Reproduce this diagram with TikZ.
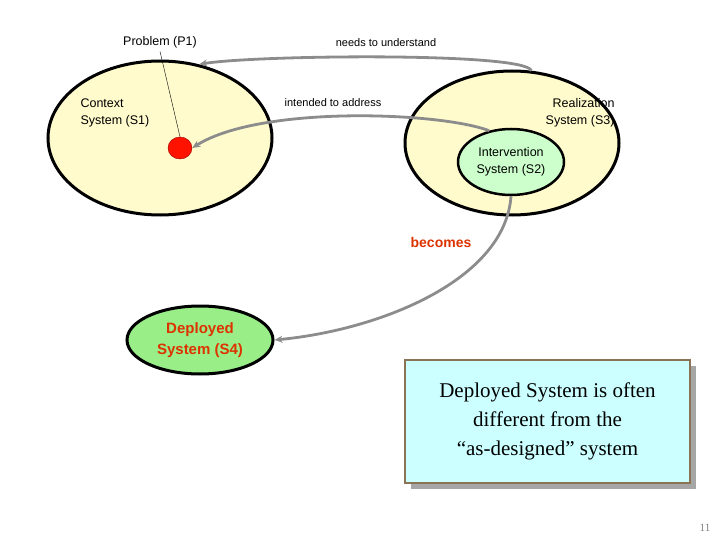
\documentclass[tikz,border=0pt]{standalone}
\usepackage{fontspec}
\setmainfont{Liberation Sans}
\newfontfamily\serifx{Liberation Serif}
\usetikzlibrary{shapes.geometric,arrows.meta}
\definecolor{pale}{HTML}{FFFBCC}
\definecolor{mint}{HTML}{CCFFCC}
\definecolor{lgreen}{HTML}{99EE88}
\definecolor{boxc}{HTML}{CCFFFF}
\definecolor{brownb}{HTML}{8B7355}
\definecolor{redt}{HTML}{DD3300}
\tikzset{
  sys/.style={ellipse,draw=black,line width=3pt,inner sep=0pt},
  lbl/.style={font=\fontsize{12.5}{17}\selectfont,align=center},
  conn/.style={draw=gray!90,line width=2.8pt,-{Stealth[length=8pt,width=7pt]}}
}
\begin{document}
\begin{tikzpicture}[x=1pt,y=-1pt]
\useasboundingbox (0,0) rectangle (720,540);
\node[sys,fill=pale,minimum width=224pt,minimum height=154pt] (s1) at (160,138) {};
\node[sys,fill=pale,minimum width=214pt,minimum height=144pt] (s3) at (512,143) {};
\node[sys,fill=mint,line width=2.5pt,minimum width=106pt,minimum height=66pt,lbl] (s2) at (511,162) {Intervention\\System (S2)};
\node[ellipse,fill=red!85!orange,draw=red!60!black,minimum width=24pt,minimum height=22pt,inner sep=0pt] (p) at (180,148) {};
\node[sys,fill=lgreen,minimum width=146pt,minimum height=68pt,align=center,text=redt,font=\bfseries\fontsize{15}{21}\selectfont] (s4) at (200,340) {Deployed\\System (S4)};
\node[lbl,align=left,anchor=west] (c1) at (77,113) {Context\\System (S1)};
\node[lbl,align=right,anchor=east] (c3) at (618,113) {Realization\\System (S3)};
\node[lbl] (pl) at (160,42) {Problem (P1)};
\node[lbl,font=\fontsize{11}{13}\selectfont] (n1) at (386,43) {needs to understand};
\node[lbl,font=\fontsize{11}{13}\selectfont] (n2) at (333,103) {intended to address};
\node[font=\bfseries\fontsize{14}{16}\selectfont,text=redt] (b) at (441,242) {becomes};
\fill[gray!70] (411,366) rectangle (696,489);
\node[draw=brownb,line width=2pt,fill=boxc,minimum width=285pt,minimum height=123pt,align=center,font=\serifx\fontsize{21}{29}\selectfont] (box) at (547.5,421.5) {Deployed System is often\\different from the\\“as-designed” system};
\node[text=gray,font=\serifx\fontsize{11}{12}\selectfont] (pg) at (705,528) {11};
\draw[thin] (pl.south) -- (p.north);
\draw[conn] (s3.75) .. controls (525,52) and (255,55) .. (s1.62);
\draw[conn] (s2.125) .. controls (440,112) and (260,105) .. (p.east);
\draw[conn] (s2.south) .. controls (505,280) and (380,330) .. (s4.east);
\end{tikzpicture}
\end{document}
